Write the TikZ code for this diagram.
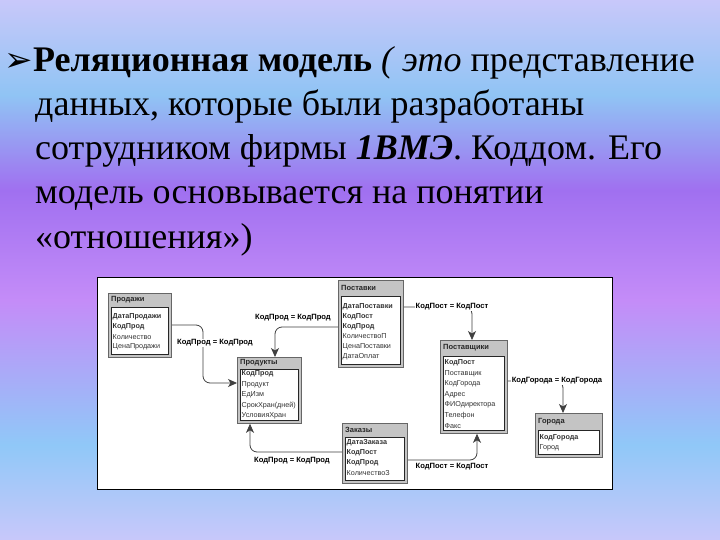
\documentclass[tikz,border=0pt]{standalone}
\usepackage{fontspec}
\setmainfont{Liberation Serif}
\newfontfamily\tblfont{Liberation Sans}
\newfontfamily\symfont{DejaVu Sans}
\usetikzlibrary{arrows.meta}
\definecolor{bgA}{HTML}{C8C8FA}
\definecolor{bgB}{HTML}{90C4F4}
\definecolor{bgC}{HTML}{A070F0}
\definecolor{bgD}{HTML}{C48CF8}
\definecolor{bgE}{HTML}{90C8F8}
\definecolor{tblgray}{HTML}{C4C4C4}
\pgfdeclareverticalshading{slidebg}{100bp}{color(0bp)=(bgA); color(25bp)=(bgA); color(33.8bp)=(bgE); color(47.2bp)=(bgD); color(57.4bp)=(bgC); color(66.2bp)=(bgB); color(75bp)=(bgA); color(100bp)=(bgA)}
\tikzset{
  titletext/.style={anchor=base west, inner sep=0pt, font=\fontsize{36}{40}\selectfont},
  tblouter/.style={draw=black!60, fill=tblgray, line width=0.8pt, inner sep=0pt, rectangle},
  tblinner/.style={draw=black!85, fill=white, line width=0.6pt, inner sep=0pt, rectangle},
  tblhead/.style={inner sep=0pt, font=\tblfont\bfseries\fontsize{7.5}{8}\selectfont, text=black!85},
  fld/.style={anchor=west, inner sep=0pt, font=\tblfont\fontsize{7.2}{8}\selectfont, text=black!80},
  lbl/.style={fill=white, inner sep=1pt, font=\tblfont\bfseries\fontsize{7.6}{8}\selectfont},
  conn/.style={draw=black!75, line width=0.8pt, rounded corners=7pt, -{Stealth[length=9pt,width=8pt,inset=2.5pt]}},
}
\newcommand{\mktable}[7]{%
  \node[tblouter, minimum width={#4-#2}, minimum height={#5-#3}, anchor=north west] (#1) at (#2,#3) {};
  \node[tblhead, anchor=west] (#1-h) at (#2+3, {(#3+#6)/2}) {#7};
  \node[tblinner, minimum width={#4-#2-6}, minimum height={#5-#6-3}, anchor=north west] (#1-in) at (#2+3,#6) {};
}
\newcommand{\fldnode}[4]{\node[fld] (#1) at (#2,#3) {#4};}
\begin{document}
\begin{tikzpicture}[x=1pt,y=-1pt]
\shade[shading=slidebg] (0,0) rectangle (720,540);
\useasboundingbox (0,0) rectangle (720,540);

% title text
\node[anchor=base west, inner sep=0pt, font=\symfont\fontsize{34}{34}\selectfont] (bul) at (4,72) {➢};
\node[titletext] (t1) at (33,72) {\textbf{Реляционная модель} \textit{( это} представление};
\node[titletext] (t2) at (35,116) {данных, которые были разработаны};
\node[titletext] (t3) at (35,160) {сотрудником фирмы \textbf{\textit{1ВМЭ}}. Коддом. Его};
\node[titletext] (t4) at (35,204) {модель основывается на понятии};
\node[titletext] (t5) at (35,248) {«отношения»)};

% frame
\node[draw=black, fill=white, line width=1.2pt, inner sep=0pt, minimum width=515, minimum height=212, anchor=north west] (frame) at (97,277) {};

% tables
\mktable{prod}{108}{293}{171}{357}{307}{Продажи}
\fldnode{prod-1}{112.5}{317}{\textbf{ДатаПродажи}}
\fldnode{prod-2}{112.5}{327}{\textbf{КодПрод}}
\fldnode{prod-3}{112.5}{337}{Количество}
\fldnode{prod-4}{112.5}{347}{ЦенаПродажи}

\mktable{post}{338}{280}{403}{367}{296}{Поставки}
\fldnode{post-1}{342.5}{306.5}{\textbf{ДатаПоставки}}
\fldnode{post-2}{342.5}{316.5}{\textbf{КодПост}}
\fldnode{post-3}{342.5}{326.5}{\textbf{КодПрод}}
\fldnode{post-4}{342.5}{336.5}{КоличествоП}
\fldnode{post-5}{342.5}{346.5}{ЦенаПоставки}
\fldnode{post-6}{342.5}{356.5}{ДатаОплат}

\mktable{prodk}{237}{357}{301}{423}{369}{Продукты}
\fldnode{prodk-1}{241.5}{374}{\textbf{КодПрод}}
\fldnode{prodk-2}{241.5}{384.5}{Продукт}
\fldnode{prodk-3}{241.5}{395}{ЕдИзм}
\fldnode{prodk-4}{241.5}{405.5}{СрокХран(дней)}
\fldnode{prodk-5}{241.5}{416}{УсловияХран}

\mktable{supp}{440}{340}{507}{433}{356}{Поставщики}
\fldnode{supp-1}{444.5}{363}{\textbf{КодПост}}
\fldnode{supp-2}{444.5}{373.5}{Поставщик}
\fldnode{supp-3}{444.5}{384}{КодГорода}
\fldnode{supp-4}{444.5}{394.5}{Адрес}
\fldnode{supp-5}{444.5}{405}{ФИОдиректора}
\fldnode{supp-6}{444.5}{415.5}{Телефон}
\fldnode{supp-7}{444.5}{426}{Факс}

\mktable{city}{535}{413}{602}{457}{430}{Города}
\fldnode{city-1}{539.5}{438}{\textbf{КодГорода}}
\fldnode{city-2}{539.5}{448}{Город}

\mktable{ord}{342}{423}{407}{483}{437}{Заказы}
\fldnode{ord-1}{346.5}{443}{\textbf{ДатаЗаказа}}
\fldnode{ord-2}{346.5}{453}{\textbf{КодПост}}
\fldnode{ord-3}{346.5}{463}{\textbf{КодПрод}}
\fldnode{ord-4}{346.5}{473}{КоличествоЗ}

% connectors
\draw[conn] (prod.east |- 0,325) -- (203,325) -- (203,383) -- (prodk.west |- 0,383);
\draw[conn] (post.west |- 0,327) -- (275,327) -- (275,0 |- prodk.north);
\draw[conn] (post.east |- 0,307) -- (472,307) -- (472,0 |- supp.north);
\draw[conn] (supp.east |- 0,381) -- (563,381) -- (563,0 |- city.north);
\draw[conn] (ord.west |- 0,452) -- (250,452) -- (250,0 |- prodk.south);
\draw[conn] (ord.east |- 0,460) -- (477,460) -- (477,0 |- supp.south);

% labels
\node[lbl] (l1) at (215,343) {КодПрод = КодПрод};
\node[lbl] (l2) at (293,318) {КодПрод = КодПрод};
\node[lbl] (l3) at (452,307) {КодПост = КодПост};
\node[lbl] (l4) at (557,381) {КодГорода = КодГорода};
\node[lbl] (l5) at (292,461) {КодПрод = КодПрод};
\node[lbl] (l6) at (452,467) {КодПост = КодПост};
\end{tikzpicture}
\end{document}
